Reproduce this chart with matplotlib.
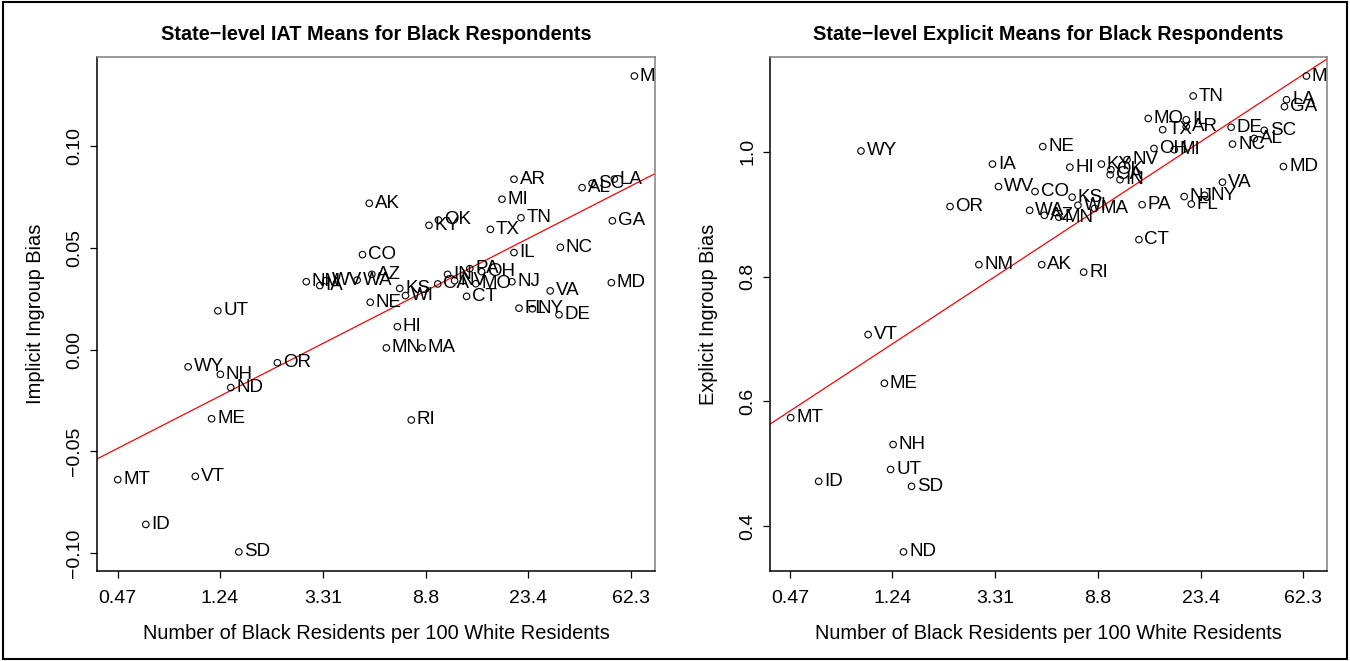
import numpy as np
import matplotlib
matplotlib.use("Agg")
import matplotlib.pyplot as plt
from matplotlib.patches import Rectangle
from matplotlib.ticker import FixedLocator, NullLocator

plt.rcParams['font.family'] = ['Liberation Sans', 'DejaVu Sans']

# state abbreviations, Black residents per 100 White residents,
# implicit (IAT) mean and explicit mean
states = ['MS', 'AR', 'MI', 'AK', 'AL', 'SC', 'LA', 'GA', 'TN', 'TX',
          'KY', 'OK', 'CO', 'IL', 'NC', 'MD', 'NJ', 'VA', 'DE', 'FL',
          'NY', 'MO', 'CT', 'HI', 'NE', 'KS', 'WI', 'CA', 'IN', 'AZ',
          'WA', 'WV', 'NM', 'IA', 'PA', 'OH', 'NV', 'UT', 'WY', 'NH',
          'ND', 'OR', 'ME', 'MT', 'VT', 'ID', 'SD', 'MN', 'MA', 'RI']

black_per_100 = [64.1, 20.4, 18.2, 5.15, 39.0, 42.9, 53.0, 52.0, 21.8, 16.3,
                 9.09, 9.95, 4.83, 20.4, 31.7, 51.5, 20.0, 28.8, 31.3, 21.4,
                 24.3, 14.2, 13.0, 6.73, 5.20, 6.88, 7.27, 9.88, 10.85, 5.28,
                 4.59, 3.41, 2.83, 3.22, 13.4, 15.0, 11.6, 1.22, 0.92, 1.25,
                 1.38, 2.15, 1.15, 0.471, 0.985, 0.615, 1.49, 6.06, 8.52, 7.68]

implicit_bias = [0.1343, 0.0836, 0.0738, 0.0718, 0.0795, 0.0816, 0.0837, 0.0632, 0.0647, 0.0590,
                 0.0610, 0.0636, 0.0466, 0.0476, 0.0502, 0.0328, 0.0333, 0.0288, 0.0171, 0.0203,
                 0.0200, 0.0323, 0.0261, 0.0112, 0.0232, 0.0300, 0.0265, 0.0322, 0.0369, 0.0369,
                 0.0341, 0.0338, 0.0333, 0.0314, 0.0397, 0.0382, 0.0338, 0.0190, -0.0085, -0.0122,
                 -0.0187, -0.0065, -0.0340, -0.0639, -0.0623, -0.0859, -0.0994, 0.0008, 0.0008, -0.0346]

explicit_bias = [1.121, 1.040, 1.003, 0.819, 1.021, 1.034, 1.083, 1.072, 1.089, 1.035,
                 0.980, 0.971, 0.936, 1.051, 1.012, 0.976, 0.928, 0.951, 1.039, 0.916,
                 0.930, 1.053, 0.859, 0.975, 1.008, 0.927, 0.914, 0.963, 0.955, 0.898,
                 0.906, 0.944, 0.819, 0.980, 0.915, 1.005, 0.987, 0.491, 1.001, 0.531,
                 0.359, 0.912, 0.629, 0.574, 0.707, 0.472, 0.464, 0.895, 0.909, 0.807]

x_ticks = [0.47, 1.24, 3.31, 8.8, 23.4, 62.3]
x_tick_labels = ['0.47', '1.24', '3.31', '8.8', '23.4', '62.3']

implicit_yticks = [-0.10, -0.05, 0.00, 0.05, 0.10]
implicit_ylabels = ['\u22120.10', '\u22120.05', '0.00', '0.05', '0.10']
explicit_yticks = [0.4, 0.6, 0.8, 1.0]
explicit_ylabels = ['0.4', '0.6', '0.8', '1.0']

titles = ['State\u2212level IAT Means for Black Respondents',
          'State\u2212level Explicit Means for Black Respondents']
ylabels = ['Implicit Ingroup Bias', 'Explicit Ingroup Bias']
xlabel = 'Number of Black Residents per 100 White Residents'


def draw_panel(ax, x, y, title, ylab, yticks, yticklabels):
    x = np.asarray(x)
    y = np.asarray(y)
    ax.scatter(x, y, s=22, facecolors='none', edgecolors='black', linewidths=0.8, zorder=3)
    for st, xi, yi in zip(states, x, y):
        t = ax.annotate(st, (xi, yi), xytext=(4, 0), textcoords='offset points',
                        ha='left', va='center', fontsize=13.5, clip_on=True)
        t.set_clip_path(ax.patch)

    ax.set_xscale('log')
    ax.margins(0.04)

    # least squares fit on log scale
    b, a = np.polyfit(np.log(x), y, 1)
    ax.axline((1.0, a), (np.e, a + b), color='red', lw=0.9, zorder=2)

    ax.xaxis.set_major_locator(FixedLocator(x_ticks))
    ax.xaxis.set_minor_locator(NullLocator())
    ax.set_xticklabels(x_tick_labels)
    ax.set_yticks(yticks)
    ax.set_yticklabels(yticklabels, rotation=90, va='center')

    ax.tick_params(axis='both', direction='out', length=5, width=0.9, labelsize=14)
    ax.tick_params(axis='x', pad=9)
    ax.tick_params(axis='y', pad=5)

    for side in ['top', 'right']:
        ax.spines[side].set_color('#808080')
        ax.spines[side].set_linewidth(1.1)
    for side in ['left', 'bottom']:
        ax.spines[side].set_color('black')
        ax.spines[side].set_linewidth(1.1)

    ax.set_title(title, fontsize=14.3, fontweight='bold', pad=12)
    ax.set_xlabel(xlabel, fontsize=14.4, labelpad=12)
    ax.set_ylabel(ylab, fontsize=14.4, labelpad=15)


fig = plt.figure(figsize=(13.5, 6.61), dpi=100)
ax1 = fig.add_axes([0.0719, 0.1362, 0.4133, 0.7776])
ax2 = fig.add_axes([0.5704, 0.1362, 0.4126, 0.7776])

draw_panel(ax1, black_per_100, implicit_bias, titles[0], ylabels[0],
           implicit_yticks, implicit_ylabels)
draw_panel(ax2, black_per_100, explicit_bias, titles[1], ylabels[1],
           explicit_yticks, explicit_ylabels)

# outer frame around the figure
fig.patches.append(Rectangle((0.002, 0.003), 0.996, 0.994, transform=fig.transFigure,
                             fill=False, edgecolor='black', linewidth=1.5))

fig.savefig('out.png', dpi=100)
